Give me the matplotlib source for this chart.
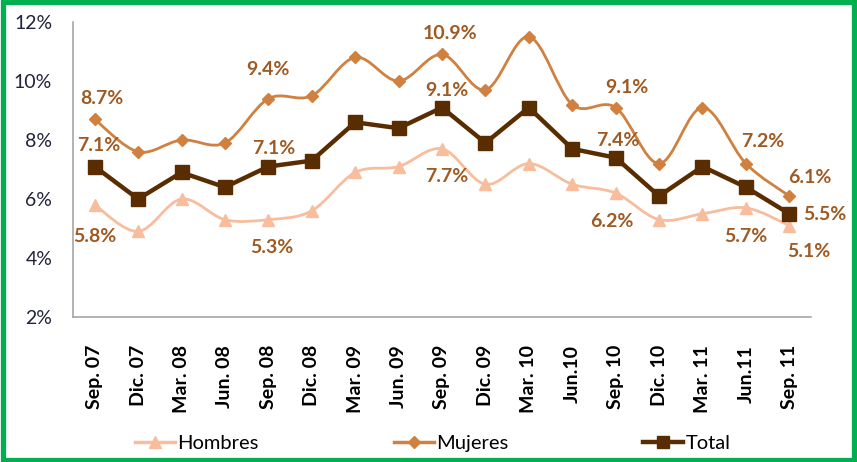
import matplotlib
matplotlib.use("Agg")
import matplotlib.pyplot as plt
from matplotlib.path import Path
from matplotlib.patches import PathPatch, Rectangle
from matplotlib.lines import Line2D
import numpy as np

plt.rcParams['font.family'] = ['Lato', 'DejaVu Sans']

periods = ["Sep. 07", "Dic. 07", "Mar. 08", "Jun. 08", "Sep. 08", "Dic. 08",
           "Mar. 09", "Jun. 09", "Sep. 09", "Dic. 09", "Mar. 10", "Jun.10",
           "Sep. 10", "Dic. 10", "Mar. 11", "Jun.11", "Sep. 11"]
hombres = [5.8, 4.9, 6.0, 5.3, 5.3, 5.6, 6.9, 7.1, 7.7, 6.5, 7.2, 6.5,
           6.2, 5.3, 5.5, 5.7, 5.1]
mujeres = [8.7, 7.6, 8.0, 7.9, 9.4, 9.5, 10.8, 10.0, 10.9, 9.7, 11.5, 9.2,
           9.1, 7.2, 9.1, 7.2, 6.1]
total = [7.1, 6.0, 6.9, 6.4, 7.1, 7.3, 8.6, 8.4, 9.1, 7.9, 9.1, 7.7,
         7.4, 6.1, 7.1, 6.4, 5.5]
yticks = [2, 4, 6, 8, 10, 12]

c_h = '#F7BD9C'
c_m = '#D0803F'
c_t = '#5A2D00'
c_lab = '#9E5A22'


def smooth_path(x, y):
    # excel-like smoothed line: cubic bezier through every point
    x = np.asarray(x, float)
    y = np.asarray(y, float)
    n = len(x)
    verts = [(x[0], y[0])]
    codes = [Path.MOVETO]
    for i in range(n - 1):
        i0 = max(i - 1, 0)
        i3 = min(i + 2, n - 1)
        c1 = (x[i] + (x[i + 1] - x[i0]) / 6, y[i] + (y[i + 1] - y[i0]) / 6)
        c2 = (x[i + 1] - (x[i3] - x[i]) / 6, y[i + 1] - (y[i3] - y[i]) / 6)
        verts += [c1, c2, (x[i + 1], y[i + 1])]
        codes += [Path.CURVE4] * 3
    return Path(verts, codes)


fig = plt.figure(figsize=(8.57, 4.62), dpi=100)
ax = fig.add_axes([73 / 857, 1 - 317 / 462, (811 - 73) / 857, (317 - 22) / 462])

xs = np.arange(len(periods))
ax.add_patch(PathPatch(smooth_path(xs, hombres), fc='none', ec=c_h, lw=2.0, zorder=2))
ax.add_patch(PathPatch(smooth_path(xs, mujeres), fc='none', ec=c_m, lw=2.0, zorder=2))
ax.plot(xs, hombres, ls='none', marker='^', ms=9, color=c_h, zorder=3)
ax.plot(xs, mujeres, ls='none', marker='D', ms=6.5, color=c_m, zorder=3)
ax.plot(xs, total, marker='s', ms=10, lw=3.2, color=c_t, zorder=4)

# data labels: (series, index, dx px, dy px)
labels = [
    (mujeres, 0, 7, 21), (mujeres, 4, 0, 29), (mujeres, 8, 8, 21),
    (mujeres, 12, 11, 20), (mujeres, 15, 17, 22), (mujeres, 16, 21, 19),
    (total, 0, 4, 21), (total, 4, 5, 18), (total, 8, 5, 17),
    (total, 12, 2, 17), (total, 16, 36, -1),
    (hombres, 0, 0, -32), (hombres, 4, 3, -28), (hombres, 8, 5, -28),
    (hombres, 12, -4, -28), (hombres, 15, 0, -29), (hombres, 16, 20, -26),
]
for ser, i, dx, dy in labels:
    ax.annotate(f"{ser[i]:.1f}%", (xs[i], ser[i]), xytext=(dx * 0.72, dy * 0.72),
                textcoords='offset points', ha='center', va='center',
                fontsize=14, fontweight='bold', color=c_lab, zorder=5)

ax.set_xlim(-0.5, len(periods) - 0.5)
ax.set_ylim(2, 12)
ax.set_yticks(yticks)
ax.set_yticklabels([f"{v}%" for v in yticks])
ax.set_xticks(xs)
ax.set_xticklabels(periods, rotation=90, fontweight='bold')
ax.tick_params(axis='y', length=0, pad=15, labelsize=14, labelcolor='#22223A')
ax.tick_params(axis='x', length=0, pad=20, labelsize=14, labelcolor='black')
for s in ['top', 'right']:
    ax.spines[s].set_visible(False)
for s in ['left', 'bottom']:
    ax.spines[s].set_color('#A6A6A6')
    ax.spines[s].set_linewidth(1.2)

handles = [
    Line2D([], [], color=c_h, lw=2.5, marker='^', ms=9),
    Line2D([], [], color=c_m, lw=2.5, marker='D', ms=6.5),
    Line2D([], [], color=c_t, lw=3.2, marker='s', ms=9),
]
fig.legend(handles, ["Hombres", "Mujeres", "Total"], ncol=3, frameon=False,
           loc='center left', bbox_to_anchor=(117 / 857, 1 - 443 / 462),
           fontsize=14.5, handlelength=2.0, handletextpad=0.1, columnspacing=6.7)

fig.patches.append(Rectangle((0.003, 0.005), 0.994, 0.99, transform=fig.transFigure,
                             fill=False, ec='#00B050', lw=3.8))

fig.savefig("out.png", dpi=100)
